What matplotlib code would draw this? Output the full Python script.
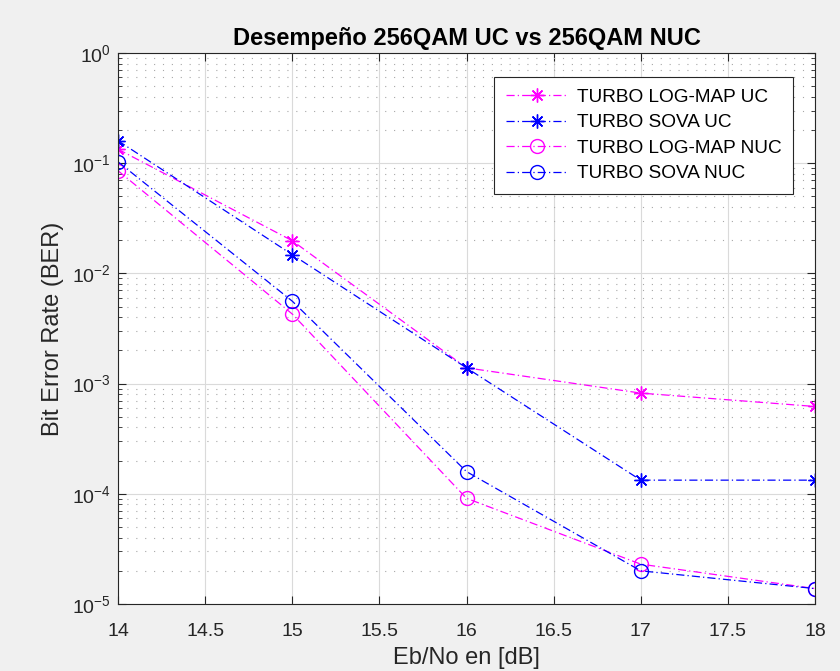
import matplotlib
matplotlib.use("Agg")
import matplotlib.pyplot as plt
from matplotlib.ticker import LogLocator, NullFormatter

plt.rcParams['font.family'] = ['Liberation Sans', 'DejaVu Sans']
plt.rcParams['mathtext.fontset'] = 'custom'
plt.rcParams['mathtext.rm'] = 'Liberation Sans'
plt.rcParams['mathtext.it'] = 'Liberation Sans:italic'
plt.rcParams['mathtext.bf'] = 'Liberation Sans:bold'

ebno = [14, 15, 16, 17, 18]
logmap_uc = [0.134, 0.0198, 1.39e-3, 8.2e-4, 6.2e-4]
sova_uc = [0.160, 0.0148, 1.39e-3, 1.33e-4, 1.33e-4]
logmap_nuc = [0.0855, 4.28e-3, 9.1e-5, 2.3e-5, 1.38e-5]
sova_nuc = [0.103, 5.6e-3, 1.59e-4, 2.0e-5, 1.38e-5]

xticks = [14, 14.5, 15, 15.5, 16, 16.5, 17, 17.5, 18]
labels = ['TURBO LOG-MAP UC', 'TURBO SOVA UC', 'TURBO LOG-MAP NUC', 'TURBO SOVA NUC']

fig = plt.figure(figsize=(8.4, 6.71), dpi=100, facecolor='#f0f0f0')
ax = fig.add_axes([118/840, 1-604/671, 697/840, 551/671])
ax.set_facecolor('white')

mag = '#ff00ff'
blu = '#0000ff'
ls = (0, (6.5, 2.5, 1, 2.5))
star = (8, 2, 0)
common = dict(lw=0.9, mew=1.0)
ax.semilogy(ebno, logmap_uc, linestyle=ls, color=mag, marker=star, ms=10, label=labels[0], **common)
ax.semilogy(ebno, sova_uc, linestyle=ls, color=blu, marker=star, ms=10, label=labels[1], **common)
ax.semilogy(ebno, logmap_nuc, linestyle=ls, color=mag, marker='o', ms=10, mfc='none', label=labels[2], **common)
ax.semilogy(ebno, sova_nuc, linestyle=ls, color=blu, marker='o', ms=10, mfc='none', label=labels[3], **common)

ax.set_xlim(14, 18)
ax.set_ylim(1e-5, 1)
ax.set_xticks(xticks)
ax.set_xticklabels([f'{t:g}' for t in xticks])
ax.yaxis.set_major_locator(LogLocator(base=10, numticks=10))
ax.yaxis.set_minor_locator(LogLocator(base=10, subs=range(2, 10), numticks=20))
ax.yaxis.set_minor_formatter(NullFormatter())

ax.grid(True, which='major', color='#dadada', lw=0.8, ls='-')
ax.grid(True, which='minor', axis='y', color='#a8a8a8', lw=0.8, ls=(0, (1, 7)))
ax.set_axisbelow(True)

ax.tick_params(which='both', direction='in', top=True, right=True, colors='#262626', labelsize=14)
ax.tick_params(which='major', length=6)
ax.tick_params(which='minor', length=3)
ax.tick_params(axis='x', pad=13.5)
ax.tick_params(axis='y', pad=5)
for s in ax.spines.values():
    s.set_color('#262626')
    s.set_linewidth(0.8)

ax.set_title('Desempeño 256QAM UC vs 256QAM NUC', fontsize=17, fontweight='bold', color='#000000', pad=5.8)
ax.set_xlabel('Eb/No en [dB]', fontsize=17, color='#262626', labelpad=5.5)
ax.set_ylabel('Bit Error Rate (BER)', fontsize=17, color='#262626', labelpad=6)

leg = ax.legend(loc='upper right', bbox_to_anchor=(793/840, 1-77/671), bbox_transform=fig.transFigure,
                borderaxespad=0, fontsize=13.7, frameon=True, fancybox=False, edgecolor='#262626',
                framealpha=1, handlelength=3.26, handletextpad=0.47, borderpad=0.6, labelspacing=0.43)
leg.get_frame().set_linewidth(0.8)

fig.savefig('out.png', dpi=100, facecolor=fig.get_facecolor())
